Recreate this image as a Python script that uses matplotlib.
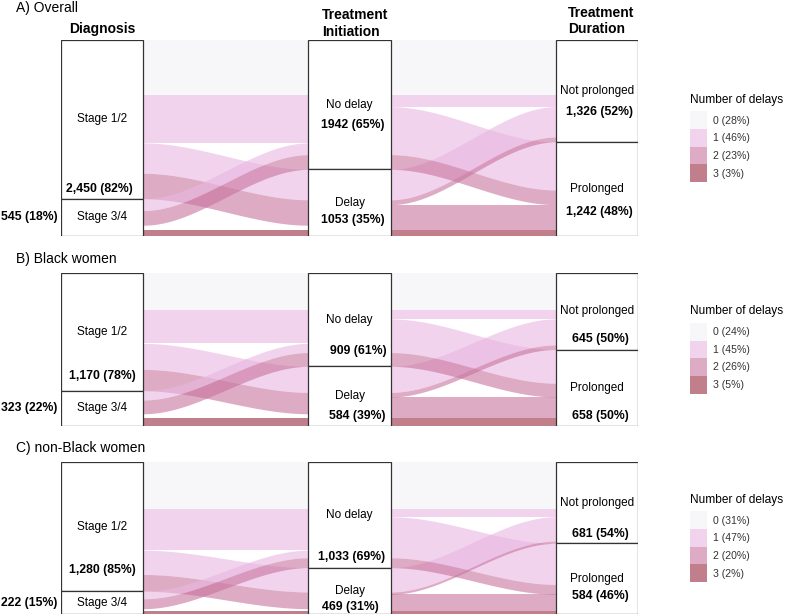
import numpy as np
import matplotlib
matplotlib.use("Agg")
import matplotlib.pyplot as plt
from matplotlib.patches import Rectangle, Patch

plt.rcParams['font.family'] = ['Liberation Sans', 'DejaVu Sans']

# strata on the three axes
diagnosis = ["Stage 1/2", "Stage 3/4"]
initiation = ["No delay", "Delay"]
duration = ["Not prolonged", "Prolonged"]
strata = [diagnosis, initiation, duration]

# every path (diagnosis, initiation, duration), 0 = first stratum
paths = [(0, 0, 0), (0, 0, 1), (0, 1, 0), (0, 1, 1),
         (1, 0, 0), (1, 0, 1), (1, 1, 0), (1, 1, 1)]
n_delays = [sum(p) for p in paths]

# share of women (%) following each path
overall = [28, 24.5, 15.5, 13, 6, 7.5, 2.5, 3]
black = [24, 22, 17, 14, 6, 9, 3, 5]
non_black = [31, 27, 16, 11, 5, 6.5, 1.5, 2]

titles = ["A) Overall", "B) Black women", "C) non-Black women"]
diag_labels = [["2,450 (82%)", "545 (18%)"], ["1,170 (78%)", "323 (22%)"], ["1,280 (85%)", "222 (15%)"]]
init_labels = [["1942 (65%)", "1053 (35%)"], ["909 (61%)", "584 (39%)"], ["1,033 (69%)", "469 (31%)"]]
dur_labels = [["1,326 (52%)", "1,242 (48%)"], ["645 (50%)", "658 (50%)"], ["681 (54%)", "584 (46%)"]]
delay_pct = [[28, 46, 23, 3], [24, 45, 26, 5], [31, 47, 20, 2]]

colors = ["#F2F2F5", "#E8B7E1", "#C8739E", "#962A3C"]
ALPHA = 0.6
W, H = 786, 616
panel_px = [(40, 236), (273, 426), (462, 614)]
title_y = [12, 263, 452]
# bold count labels (diag 1/2, no delay, delay, not prolonged, prolonged):
# y in % of panel height from top, x shift in px from the box centre
count_y = [[76, 43.4, 91.8, 36.7, 87.8],
           [67.3, 51, 93.5, 43.1, 93.5],
           [71.1, 62.5, 95.4, 47.4, 88.2]]
count_dx = [[-3, 3.5, 3.5, 3, 3],
            [0, 9, 8, 4, 4],
            [0, 2, 1, 3.5, 3.5]]
PX = (7 / 3) / 577  # data units per pixel along x

fig = plt.figure(figsize=(W / 100, H / 100), dpi=100)


def curve(x0, x1, y0, y1, n=80):
    s = np.linspace(0, 1, n)
    return x0 + (x1 - x0) * s, y0 + (y1 - y0) * (3 * s**2 - 2 * s**3)


def stack(share, a, b):
    # lode tops on axis a for the a-b gap: by stratum on a, then on b, then the rest
    other = 3 - a - b
    order = sorted(range(len(paths)), key=lambda k: (paths[k][a], paths[k][b], paths[k][other]))
    tops = [0] * len(paths)
    y = 0
    for k in order:
        tops[k] = y
        y += share[k]
    return tops


def figtext(x, y, s, **kw):
    fig.text(x / W, 1 - y / H, s, **kw)


for p, share in enumerate([overall, black, non_black]):
    top, bot = panel_px[p]
    ax = fig.add_axes([61 / W, 1 - bot / H, 577 / W, (bot - top) / H])
    ax.set_xlim(5 / 6, 19 / 6)
    ax.set_ylim(100, 0)
    ax.axis('off')

    # flows
    for g, (a, b) in enumerate([(0, 1), (1, 2)]):
        left = stack(share, a, b)
        right = stack(share, b, a)
        for k in range(len(paths)):
            if g == 0 and paths[k] == (1, 1, 0):
                continue  # left blank in the original
            xs, yt = curve(a + 1 + 1 / 6, b + 1 - 1 / 6, left[k], right[k])
            _, yb = curve(a + 1 + 1 / 6, b + 1 - 1 / 6, left[k] + share[k], right[k] + share[k])
            ax.fill_between(xs, yt, yb, color=colors[n_delays[k]], alpha=ALPHA, lw=0)

    # strata boxes
    counts = [diag_labels[p], init_labels[p], dur_labels[p]]
    for j in range(3):
        y0 = 0
        for s, name in enumerate(strata[j]):
            h = sum(share[k] for k in range(len(paths)) if paths[k][j] == s)
            ax.add_patch(Rectangle((j + 1 - 1 / 6, y0), 1 / 3, h, facecolor='white',
                                   edgecolor='#333333', lw=0.9, zorder=3))
            ax.text(j + 1, y0 + h / 2, name, ha='center', va='center', fontsize=8.5, zorder=4)
            if j == 0 and s == 1:
                ax.text(1 - 1 / 6 - 0.015, y0 + h / 2, counts[j][s], ha='right', va='center',
                        fontsize=8.8, fontweight='bold', zorder=4, clip_on=False)
            else:
                i = 0 if j == 0 else 2 * j - 1 + s
                ax.text(j + 1 + count_dx[p][i] * PX, count_y[p][i], counts[j][s],
                        ha='center', va='center', fontsize=8.8, fontweight='bold', zorder=4)
            y0 += h

    handles = [Patch(facecolor=c, alpha=ALPHA, edgecolor='none') for c in colors]
    labels = [f"{i} ({delay_pct[p][i]}%)" for i in range(4)]
    leg = ax.legend(handles, labels, title="Number of delays", loc='center left',
                    bbox_to_anchor=((690 - 61) / 577, 0.5), frameon=False, fontsize=7.6,
                    title_fontsize=8.6, handlelength=1.6, handleheight=2.2, labelspacing=0,
                    handletextpad=0.6, borderpad=0, borderaxespad=0, alignment='left')
    leg._legend_box.sep = 4
    for t in leg.get_texts():
        t.set_color('#333333')

    figtext(16, title_y[p], titles[p], fontsize=10, va='baseline')

# column headers
figtext(69, 33, "Diagnosis", fontsize=10, fontweight='bold', va='baseline')
figtext(322, 19, "Treatment", fontsize=10, fontweight='bold', va='baseline')
figtext(322, 36, "Initiation", fontsize=10, fontweight='bold', va='baseline')
figtext(568, 17, "Treatment", fontsize=10, fontweight='bold', va='baseline')
figtext(568, 33, "Duration", fontsize=10, fontweight='bold', va='baseline')

fig.savefig("out.png", dpi=100)
